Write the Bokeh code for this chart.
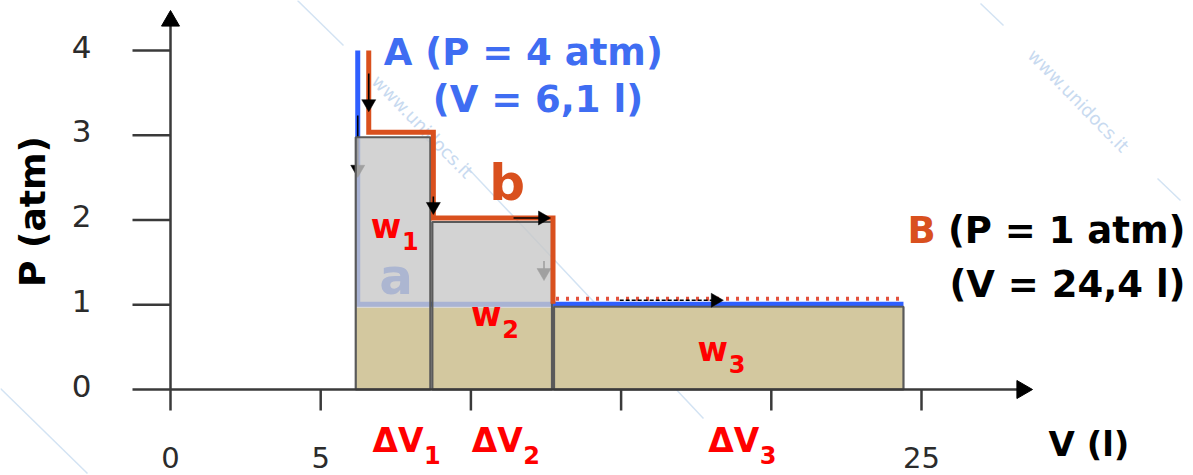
import math

from bokeh.plotting import figure
from bokeh.models import Range1d
from bokeh.core.properties import value
from bokeh.embed import file_html
from bokeh.resources import INLINE

# ---------------- data ----------------
p_ticks = [0, 1, 2, 3, 4]
p_tick_labels = ["0", "1", "2", "3", "4"]
v_ticks = [0, 5, 10, 15, 20, 25]
v_tick_labels = ["0", "5", "", "", "", "25"]

V_A, P_A = 6.1, 4.0      # state A
V_B, P_B = 24.4, 1.0     # state B

# path b: expansion in three steps against a constant external pressure
step_V = [6.1, 8.65, 12.7, 24.4]   # volume limits of each step (l)
step_P = [3.0, 2.0, 1.0]           # external pressure of each step (atm)
step_names = ["1", "2", "3"]

# ---------------- canvas and scales ----------------
W, H = 1193, 475
X0, Y0 = 170, 389            # screen position of the origin
PX_V, PX_P = 30.04, 84.75    # pixels per litre, pixels per atm


def dv(px):
    return px / PX_V


def dp(px):
    return px / PX_P


def sx(x):
    return (x - X0) / PX_V


def sy(y):
    return (Y0 - y) / PX_P


FONT = value("DejaVu Sans")
BLUE = "#2f5fff"
BLUE_TXT = "#3f6df2"
ORANGE = "#d9501e"
RED = "#ff0000"
AXIS = "#3a3a3a"

p = figure(width=W, height=H,
           x_range=Range1d(sx(0), sx(W)), y_range=Range1d(sy(H), sy(0)),
           x_axis_type=None, y_axis_type=None, toolbar_location=None,
           output_backend="svg", min_border=0, outline_line_color=None,
           background_fill_color="white", border_fill_color="white")

# ---------------- faint watermark ----------------
wm = [(297, 0, 343, 45), (0, 388, 87, 473), (465, 165, 703, 418),
      (980, 3, 1003, 25), (1157, 178, 1180, 200)]
p.segment(x0=[sx(s[0]) for s in wm], y0=[sy(s[1]) for s in wm],
          x1=[sx(s[2]) for s in wm], y1=[sy(s[3]) for s in wm],
          line_color="#d3e3f3", line_width=1.5)
p.text(x=[sx(422), sx(1078)], y=[sy(126), sy(100)], text=["www.unidocs.it"] * 2,
       angle=-0.8, text_align="center", text_baseline="middle",
       text_font=FONT, text_font_size="18px", text_color="#c8daf0")


def arrow(q0, q1, f0, f1, color="black", width=1.6, dash="solid", size=14, shift=(0, 0)):
    """Arrow along the segment q0->q1, from fraction f0 to the tip at fraction f1."""
    (x0, y0), (x1, y1) = q0, q1
    ax = x0 + f0 * (x1 - x0) + dv(shift[0])
    ay = y0 + f0 * (y1 - y0) + dp(shift[1])
    tx = x0 + f1 * (x1 - x0) + dv(shift[0])
    ty = y0 + f1 * (y1 - y0) + dp(shift[1])
    ang = math.atan2((ty - ay) * PX_P, (tx - ax) * PX_V)
    back = size / math.sqrt(3)
    cx = tx - dv(back * math.cos(ang))
    cy = ty - dp(back * math.sin(ang))
    p.segment(x0=[ax], y0=[ay], x1=[cx], y1=[cy], line_color=color,
              line_width=width, line_dash=dash)
    p.scatter(x=[cx], y=[cy], marker="triangle", size=size, angle=ang - math.pi / 2,
              fill_color=color, line_color=color, line_width=0.5)


# ---------------- path a (blue): isochoric drop, then isobaric expansion ----------------
a_x = [V_A + dv(4), V_A + dv(4), V_B]
a_y = [P_A, P_B + dp(0.5), P_B + dp(0.5)]
p.line(a_x, a_y, line_color=BLUE, line_width=5, line_join="miter")

col_mid = [(step_V[i] + step_V[i + 1]) / 2 for i in range(len(step_P))]
p.text(x=[col_mid[0]], y=[P_B], text=["a"], x_offset=4, y_offset=-28,
       text_align="center", text_baseline="middle", text_font=FONT,
       text_font_style="bold", text_font_size="50px", text_color=BLUE_TXT)

# path b vertices (with small screen offsets so the two paths stay apart)
b_pts = [(V_A, P_A)]
for i, P in enumerate(step_P):
    b_pts.append((step_V[i], P))
    b_pts.append((step_V[i + 1], P))
bx_off = [15, 15, 3, 3, 1, 1, 0]
by_off = [0, 3, 3, 2, 2, 1, 6]
b_x = [v + dv(o) for (v, _), o in zip(b_pts, bx_off)]
b_y = [pp + dp(o) for (_, pp), o in zip(b_pts, by_off)]

# arrows that sit beneath the shaded work areas
arrow((a_x[0], a_y[0]), (a_x[1], a_y[1]), 0.256, 0.5)
arrow((b_x[4], b_y[4]), (b_x[5], b_y[5]), 0.5, 0.73, shift=(-9, 0))

# ---------------- work areas ----------------
tan_top = P_B - dp(3)
left = [step_V[i] + dv(2) for i in range(len(step_P))]
right = [step_V[i + 1] for i in range(len(step_P))]
gray_top = [max(P - dp(2), tan_top) for P in step_P]

p.quad(left=left, right=right, bottom=[0] * 3, top=[tan_top] * 3,
       fill_color="#d3c89f", line_color=None)
p.quad(left=left, right=right, bottom=[tan_top] * 3, top=gray_top,
       fill_color="#c8c8c8", fill_alpha=0.8, line_color=None)
p.quad(left=left, right=right, bottom=[0] * 3, top=gray_top,
       fill_color=None, line_color="#5a5a5a", line_width=2.2)

# ---------------- path b (orange) ----------------
p.line(b_x[:6], b_y[:6], line_color=ORANGE, line_width=5, line_join="miter")
p.line([b_x[5] + dv(3), V_B], [P_B + dp(6), P_B + dp(6)],
       line_color="#e2523e", line_width=4, line_dash="3 7")

arrow((b_x[0], b_y[0]), (b_x[1], b_y[1]), 0.28, 0.75)
arrow((b_x[2], b_y[2]), (b_x[3], b_y[3]), 0.75, 0.96)
arrow((b_x[3], b_y[3]), (b_x[4], b_y[4]), 0.67, 0.98)
arrow((a_x[1], a_y[1]), (a_x[2], a_y[2]), 0.48, 0.67, dash="4 2", shift=(0, 4))

# ---------------- axes ----------------
x_left, x_tip = sx(132), sx(1032)
y_bottom, y_tip = sy(410), sy(10)
p.segment(x0=[x_left, 0], y0=[0, y_bottom], x1=[x_tip - dv(8), 0], y1=[0, y_tip - dp(8)],
          line_color=AXIS, line_width=2.5)
p.segment(x0=[x_left] * 4, y0=p_ticks[1:], x1=[0] * 4, y1=p_ticks[1:],
          line_color=AXIS, line_width=2.5)
p.segment(x0=v_ticks[1:], y0=[0] * 5, x1=v_ticks[1:], y1=[y_bottom] * 5,
          line_color=AXIS, line_width=2.5)
head = 18
p.scatter(x=[0], y=[y_tip - dp(head / math.sqrt(3))], marker="triangle", size=head,
          angle=0, fill_color="black", line_color="black")
p.scatter(x=[x_tip - dv(head / math.sqrt(3))], y=[0], marker="triangle", size=head,
          angle=-math.pi / 2, fill_color="black", line_color="black")

p.text(x=[sx(81)] * len(p_ticks), y=p_ticks, text=p_tick_labels, y_offset=-4,
       text_align="center", text_baseline="middle", text_font=FONT,
       text_font_size="31px", text_color="#2b2b2b")
p.text(x=v_ticks, y=[sy(457)] * len(v_ticks), text=v_tick_labels,
       text_align="center", text_baseline="middle", text_font=FONT,
       text_font_size="29px", text_color="#2b2b2b")

p.text(x=[sx(32)], y=[sy(211)], text=["P (atm)"], angle=math.pi / 2,
       text_align="center", text_baseline="middle", text_font=FONT,
       text_font_style="bold", text_font_size="36px", text_color="black")
p.text(x=[sx(1048)], y=[sy(443)], text=["V (l)"],
       text_align="left", text_baseline="middle", text_font=FONT,
       text_font_style="bold", text_font_size="34px", text_color="black")

# ---------------- state labels ----------------
p.text(x=[V_A, V_A], y=[P_A, P_A], text=["A (P = 4 atm)", "(V = 6,1 l)"],
       x_offset=[30, 79], y_offset=[2, 49], text_align="left",
       text_baseline="middle", text_font=FONT, text_font_style="bold",
       text_font_size="37px", text_color=BLUE_TXT)
p.text(x=[V_B], y=[P_B], text=["B"], x_offset=4, y_offset=-74, text_align="left",
       text_baseline="middle", text_font=FONT, text_font_style="bold",
       text_font_size="37px", text_color=ORANGE)
p.text(x=[V_B, V_B], y=[P_B, P_B], text=["(P = 1 atm)", "(V = 24,4 l)"],
       x_offset=[282, 282], y_offset=[-74, -20], text_align="right",
       text_baseline="middle", text_font=FONT, text_font_style="bold",
       text_font_size="37px", text_color="black")
p.text(x=[(step_V[1] + step_V[2]) / 2], y=[step_P[1]], text=["b"],
       x_offset=16, y_offset=-37, text_align="center", text_baseline="middle",
       text_font=FONT, text_font_style="bold", text_font_size="50px",
       text_color=ORANGE)

# ---------------- work and volume-change labels ----------------
w_dx = [-6, -5, -15]
w_mid = [226, 314, 349]
wx = [c + dv(d) for c, d in zip(col_mid, w_dx)]
p.text(x=wx, y=[sy(m) for m in w_mid], text=["w"] * 3, text_align="center",
       text_baseline="middle", text_font=FONT, text_font_style="bold",
       text_font_size="33px", text_color=RED)
p.text(x=[x + dv(16) for x in wx], y=[sy(m + 14) for m in w_mid], text=step_names,
       text_align="left", text_baseline="middle", text_font=FONT,
       text_font_style="bold", text_font_size="24px", text_color=RED)

dvx = [c + dv(6) for c in col_mid]
p.text(x=dvx, y=[sy(440)] * 3, text=["\u0394V"] * 3, text_align="center",
       text_baseline="middle", text_font=FONT, text_font_style="bold",
       text_font_size="33px", text_color=RED)
p.text(x=[x + dv(26) for x in dvx], y=[sy(454)] * 3, text=step_names,
       text_align="left", text_baseline="middle", text_font=FONT,
       text_font_style="bold", text_font_size="24px", text_color=RED)

open("out.html", "w").write(file_html(p, INLINE))
